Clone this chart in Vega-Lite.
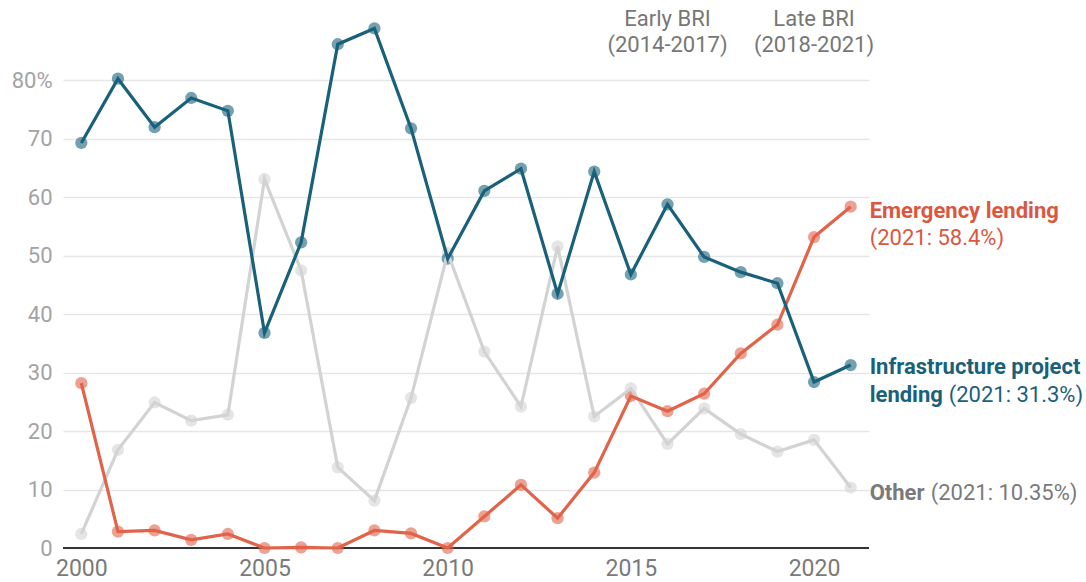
{
  "$schema": "https://vega.github.io/schema/vega-lite/v6.json",
  "width": 806,
  "height": 526,
  "autosize": {"type": "none"},
  "padding": {"left": 63, "top": 22, "right": 217, "bottom": 34},
  "background": "white",
  "config": {
    "font": "Roboto",
    "view": {"stroke": null},
    "axis": {"domain": false, "ticks": false, "title": null}
  },
  "datasets": {
    "main": [
      {"year": 2000, "series": "Other", "value": 2.4},
      {"year": 2001, "series": "Other", "value": 16.8},
      {"year": 2002, "series": "Other", "value": 24.9},
      {"year": 2003, "series": "Other", "value": 21.8},
      {"year": 2004, "series": "Other", "value": 22.8},
      {"year": 2005, "series": "Other", "value": 63.1},
      {"year": 2006, "series": "Other", "value": 47.5},
      {"year": 2007, "series": "Other", "value": 13.8},
      {"year": 2008, "series": "Other", "value": 8.1},
      {"year": 2009, "series": "Other", "value": 25.7},
      {"year": 2010, "series": "Other", "value": 50.5},
      {"year": 2011, "series": "Other", "value": 33.6},
      {"year": 2012, "series": "Other", "value": 24.2},
      {"year": 2013, "series": "Other", "value": 51.6},
      {"year": 2014, "series": "Other", "value": 22.5},
      {"year": 2015, "series": "Other", "value": 27.3},
      {"year": 2016, "series": "Other", "value": 17.8},
      {"year": 2017, "series": "Other", "value": 23.9},
      {"year": 2018, "series": "Other", "value": 19.5},
      {"year": 2019, "series": "Other", "value": 16.5},
      {"year": 2020, "series": "Other", "value": 18.5},
      {"year": 2021, "series": "Other", "value": 10.35},
      {"year": 2000, "series": "Emergency", "value": 28.2},
      {"year": 2001, "series": "Emergency", "value": 2.8},
      {"year": 2002, "series": "Emergency", "value": 3.0},
      {"year": 2003, "series": "Emergency", "value": 1.4},
      {"year": 2004, "series": "Emergency", "value": 2.4},
      {"year": 2005, "series": "Emergency", "value": 0.0},
      {"year": 2006, "series": "Emergency", "value": 0.1},
      {"year": 2007, "series": "Emergency", "value": 0.0},
      {"year": 2008, "series": "Emergency", "value": 3.0},
      {"year": 2009, "series": "Emergency", "value": 2.5},
      {"year": 2010, "series": "Emergency", "value": 0.0},
      {"year": 2011, "series": "Emergency", "value": 5.4},
      {"year": 2012, "series": "Emergency", "value": 10.8},
      {"year": 2013, "series": "Emergency", "value": 5.1},
      {"year": 2014, "series": "Emergency", "value": 12.9},
      {"year": 2015, "series": "Emergency", "value": 26.0},
      {"year": 2016, "series": "Emergency", "value": 23.4},
      {"year": 2017, "series": "Emergency", "value": 26.4},
      {"year": 2018, "series": "Emergency", "value": 33.3},
      {"year": 2019, "series": "Emergency", "value": 38.2},
      {"year": 2020, "series": "Emergency", "value": 53.2},
      {"year": 2021, "series": "Emergency", "value": 58.4},
      {"year": 2000, "series": "Infrastructure", "value": 69.3},
      {"year": 2001, "series": "Infrastructure", "value": 80.3},
      {"year": 2002, "series": "Infrastructure", "value": 72.0},
      {"year": 2003, "series": "Infrastructure", "value": 77.0},
      {"year": 2004, "series": "Infrastructure", "value": 74.8},
      {"year": 2005, "series": "Infrastructure", "value": 36.8},
      {"year": 2006, "series": "Infrastructure", "value": 52.3},
      {"year": 2007, "series": "Infrastructure", "value": 86.2},
      {"year": 2008, "series": "Infrastructure", "value": 88.9},
      {"year": 2009, "series": "Infrastructure", "value": 71.8},
      {"year": 2010, "series": "Infrastructure", "value": 49.5},
      {"year": 2011, "series": "Infrastructure", "value": 61.1},
      {"year": 2012, "series": "Infrastructure", "value": 64.9},
      {"year": 2013, "series": "Infrastructure", "value": 43.5},
      {"year": 2014, "series": "Infrastructure", "value": 64.4},
      {"year": 2015, "series": "Infrastructure", "value": 46.8},
      {"year": 2016, "series": "Infrastructure", "value": 58.8},
      {"year": 2017, "series": "Infrastructure", "value": 49.8},
      {"year": 2018, "series": "Infrastructure", "value": 47.2},
      {"year": 2019, "series": "Infrastructure", "value": 45.3},
      {"year": 2020, "series": "Infrastructure", "value": 28.4},
      {"year": 2021, "series": "Infrastructure", "value": 31.3}
    ]
  },
  "encoding": {
    "x": {
      "field": "year", "type": "quantitative",
      "scale": {"domain": [1999.5, 2021.5], "nice": false, "zero": false},
      "axis": {"values": [2000, 2005, 2010, 2015, 2020], "format": "d", "grid": false,
               "labelFontSize": 23, "labelColor": "#7a7a7a", "labelPadding": 9}
    },
    "y": {
      "field": "value", "type": "quantitative",
      "scale": {"domain": [0, 90], "nice": false},
      "axis": {"values": [0, 10, 20, 30, 40, 50, 60, 70, 80],
               "labelExpr": "datum.value == 80 ? '80%' : datum.label",
               "labelFontSize": 22, "labelColor": "#a3a3a3", "labelPadding": 11,
               "gridColor": "#e6e6e6", "gridWidth": 1.5}
    }
  },
  "layer": [
    {
      "data": {"values": [{"year": 2014}, {"year": 2018}]},
      "mark": {"type": "rule", "color": "#bdbdbd", "strokeDash": [5, 4], "strokeWidth": 1.5},
      "encoding": {"y": {"datum": 0}, "y2": {"datum": 89}}
    },
    {
      "data": {"values": [{"v": 0}]},
      "mark": {"type": "rule", "color": "#333333", "strokeWidth": 2},
      "encoding": {"y": {"field": "v", "type": "quantitative"}, "x": null}
    },
    {
      "data": {"name": "main"},
      "mark": {"type": "circle", "size": 150, "opacity": 0.6},
      "encoding": {
        "color": {"field": "series", "type": "nominal", "legend": null,
                  "scale": {"domain": ["Other", "Emergency", "Infrastructure"],
                            "range": ["#d3d3d3", "#e0634a", "#19617a"]}}
      }
    },
    {
      "data": {"name": "main"},
      "mark": {"type": "line", "strokeWidth": 3.2},
      "encoding": {
        "color": {"field": "series", "type": "nominal", "legend": null}
      }
    },
    {
      "data": {"values": [{"year": 2016, "value": 90.5, "t": "Early BRI"}, {"year": 2016, "value": 86.1, "t": "(2014-2017)"},
                          {"year": 2020, "value": 90.5, "t": "Late BRI"}, {"year": 2020, "value": 86.1, "t": "(2018-2021)"}]},
      "mark": {"type": "text", "fontSize": 22, "color": "#777777", "align": "center", "baseline": "middle"},
      "encoding": {"text": {"field": "t"}}
    },
    {
      "data": {"values": [{"year": 2021, "value": 58.4, "t": "Emergency lending"}]},
      "mark": {"type": "text", "fontSize": 22, "fontWeight": "bold", "color": "#d9583f", "align": "left", "baseline": "middle", "dx": 19, "dy": 4},
      "encoding": {"text": {"field": "t"}}
    },
    {
      "data": {"values": [{"year": 2021, "value": 58.4, "t": "(2021: 58.4%)"}]},
      "mark": {"type": "text", "fontSize": 22, "color": "#d9583f", "align": "left", "baseline": "middle", "dx": 19, "dy": 31},
      "encoding": {"text": {"field": "t"}}
    },
    {
      "data": {"values": [{"year": 2021, "value": 31.3, "t": "Infrastructure project"}]},
      "mark": {"type": "text", "fontSize": 22, "fontWeight": "bold", "color": "#19617a", "align": "left", "baseline": "middle", "dx": 19, "dy": 2},
      "encoding": {"text": {"field": "t"}}
    },
    {
      "data": {"values": [{"year": 2021, "value": 31.3, "t": "lending"}]},
      "mark": {"type": "text", "fontSize": 22, "fontWeight": "bold", "color": "#19617a", "align": "left", "baseline": "middle", "dx": 19, "dy": 30},
      "encoding": {"text": {"field": "t"}}
    },
    {
      "data": {"values": [{"year": 2021, "value": 31.3, "t": "(2021: 31.3%)"}]},
      "mark": {"type": "text", "fontSize": 22, "color": "#19617a", "align": "left", "baseline": "middle", "dx": 98, "dy": 30},
      "encoding": {"text": {"field": "t"}}
    },
    {
      "data": {"values": [{"year": 2021, "value": 10.35, "t": "Other"}]},
      "mark": {"type": "text", "fontSize": 22, "fontWeight": "bold", "color": "#7a7a7a", "align": "left", "baseline": "middle", "dx": 19, "dy": 5},
      "encoding": {"text": {"field": "t"}}
    },
    {
      "data": {"values": [{"year": 2021, "value": 10.35, "t": "(2021: 10.35%)"}]},
      "mark": {"type": "text", "fontSize": 22, "color": "#7a7a7a", "align": "left", "baseline": "middle", "dx": 80, "dy": 5},
      "encoding": {"text": {"field": "t"}}
    }
  ]
}
